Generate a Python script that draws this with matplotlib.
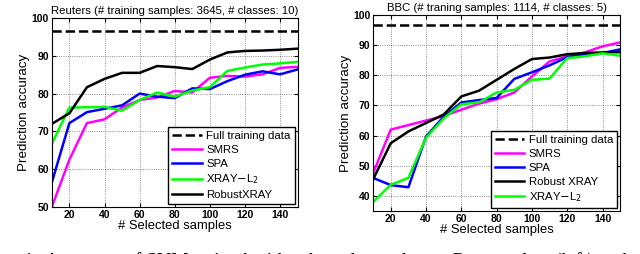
import numpy as np
import matplotlib
matplotlib.use('Agg')
from matplotlib import pyplot as plt

plt.rcParams['font.family'] = ['Liberation Sans', 'DejaVu Sans']

x = [10, 20, 30, 40, 50, 60, 70, 80, 90, 100, 110, 120, 130, 140, 150]

# Reuters (left)
reu_full = 96.6
reu_smrs = [50, 62.5, 72.2, 73.2, 76.3, 78.3, 79.0, 80.7, 80.3, 84.2, 84.7, 84.5, 85.1, 86.8, 87.1]
reu_spa = [56.5, 72.2, 75.1, 76.0, 76.9, 80.0, 79.2, 78.8, 81.4, 81.2, 83.3, 85.0, 85.9, 85.1, 86.4]
reu_xray = [66.7, 76.3, 76.4, 76.5, 75.5, 78.3, 80.3, 79.2, 80.8, 81.7, 86.0, 86.9, 87.7, 88.0, 88.4]
reu_robust = [72.0, 74.8, 81.7, 83.9, 85.5, 85.5, 87.3, 87.0, 86.5, 89.0, 90.9, 91.3, 91.4, 91.6, 91.9]

# BBC (right)
bbc_full = 96.8
bbc_smrs = [47.5, 62.0, 63.5, 65.0, 66.5, 68.6, 70.6, 72.1, 74.3, 79.6, 84.6, 86.3, 87.6, 89.6, 90.9]
bbc_spa = [46.0, 43.6, 42.9, 59.7, 66.3, 71.0, 71.8, 72.5, 78.8, 81.0, 83.3, 86.0, 87.0, 87.4, 88.6]
bbc_robust = [45.5, 57.5, 61.4, 64.2, 67.0, 73.0, 74.9, 78.5, 82.1, 85.4, 85.9, 87.0, 87.4, 87.6, 87.7]
bbc_xray = [38.0, 43.7, 46.0, 59.3, 65.7, 70.4, 71.0, 74.3, 75.2, 78.5, 78.9, 85.7, 86.3, 87.3, 86.5]

lw = 1.8
fig = plt.figure(figsize=(6.4, 2.54), dpi=100)
ax1 = fig.add_axes([0.081, 0.185, 0.384, 0.744])
ax2 = fig.add_axes([0.583, 0.169, 0.386, 0.772])

ax1.plot([10, 150], [reu_full, reu_full], 'k--', lw=lw, label='Full training data')
ax1.plot(x, reu_smrs, color='#ff00ff', lw=lw, label='SMRS')
ax1.plot(x, reu_spa, color='#0000ff', lw=lw, label='SPA')
ax1.plot(x, reu_xray, color='#00ff00', lw=lw, label='XRAY$-$L$_2$')
ax1.plot(x, reu_robust, color='k', lw=lw, label='RobustXRAY')
ax1.set_ylim(50, 100)
ax1.set_title('Reuters (# training samples: 3645, # classes: 10)', fontsize=8.2, pad=3)

ax2.plot([10, 150], [bbc_full, bbc_full], 'k--', lw=lw, label='Full training data')
ax2.plot(x, bbc_smrs, color='#ff00ff', lw=lw, label='SMRS')
ax2.plot(x, bbc_spa, color='#0000ff', lw=lw, label='SPA')
ax2.plot(x, bbc_robust, color='k', lw=lw, label='Robust XRAY')
ax2.plot(x, bbc_xray, color='#00ff00', lw=lw, label='XRAY$-$L$_2$')
ax2.set_ylim(35, 100)
ax2.set_yticks([40, 50, 60, 70, 80, 90, 100])
ax2.set_title('BBC (# traning samples: 1114, # classes: 5)', fontsize=8.2, pad=3)

for ax in (ax1, ax2):
    ax.set_xlim(10, 150)
    ax.set_xticks([20, 40, 60, 80, 100, 120, 140])
    ax.grid(True, color='k', linestyle=':', linewidth=0.6, alpha=0.6)
    ax.tick_params(direction='in', labelsize=7.5, length=3, pad=2, top=True, right=True)
    for lab in ax.get_xticklabels() + ax.get_yticklabels():
        lab.set_fontweight('bold')
    ax.set_xlabel('# Selected samples', fontsize=9.4, labelpad=0)
    ax.set_ylabel('Prediction accuracy', fontsize=9.6, labelpad=1)
    ax.legend(loc='lower right', fontsize=8.2, frameon=True, fancybox=False,
              edgecolor='k', framealpha=1, handlelength=2.6, borderpad=0.35,
              labelspacing=0.33, handletextpad=0.4, borderaxespad=0.25)

# caption of the page, cut off at the bottom edge
fig.text(0.035, 0.008, '4.  Accuracy of SVM trained with selected samples on Reuters data (left) and',
         family=['Liberation Serif', 'DejaVu Serif'], fontsize=14, va='top', ha='left')

fig.savefig('out.png', dpi=100)
